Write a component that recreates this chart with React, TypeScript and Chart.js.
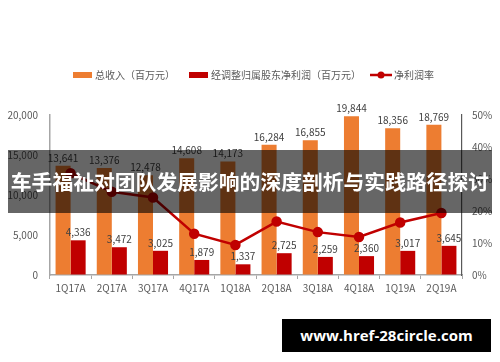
import React, { useEffect, useRef } from "react";
import { Chart, registerables } from "chart.js";

Chart.register(...registerables);

const categories = ["1Q17A", "2Q17A", "3Q17A", "4Q17A", "1Q18A", "2Q18A", "3Q18A", "4Q18A", "1Q19A", "2Q19A"];
const revenue = [13641, 13376, 12478, 14608, 14173, 16284, 16855, 19844, 18356, 18769];
const netProfit = [4336, 3472, 3025, 1879, 1337, 2725, 2259, 2360, 3017, 3645];
const netMargin = [31.8, 26.0, 24.2, 12.9, 9.4, 16.7, 13.4, 11.9, 16.4, 19.4];
const leftTicks = [0, 5000, 10000, 15000, 20000];
const rightTicks = [0, 10, 20, 30, 40, 50];
const seriesNames = ["总收入（百万元）", "经调整归属股东净利润（百万元）", "净利润率"];
const title = "车手福祉对团队发展影响的深度剖析与实践路径探讨";
const watermark = "www.href-28circle.com";

const FONT = '"Noto Sans CJK SC", "Noto Sans", sans-serif';
const ORANGE = "#ED7D31";
const RED = "#C00000";

const fmt = (v: number) => v.toLocaleString("en-US");

const labelPlugin = {
  id: "barLabels",
  afterDatasetsDraw(chart: any) {
    const ctx = chart.ctx;
    ctx.save();
    ctx.font = `10px ${FONT}`;
    ctx.fillStyle = "#404040";
    ctx.textAlign = "center";
    ctx.textBaseline = "bottom";
    [0, 1].forEach((di) => {
      const meta = chart.getDatasetMeta(di);
      const data = chart.data.datasets[di].data as number[];
      meta.data.forEach((el: any, i: number) => {
        ctx.fillText(fmt(data[i]), el.x, el.y - 3);
      });
    });
    ctx.restore();
  },
};

const legendPlugin = {
  id: "customLegend",
  afterDraw(chart: any) {
    const ctx = chart.ctx;
    ctx.save();
    ctx.font = `10px ${FONT}`;
    ctx.fillStyle = "#595959";
    ctx.textBaseline = "middle";
    ctx.textAlign = "left";
    const cy = 75;
    ctx.fillStyle = ORANGE;
    ctx.fillRect(73, cy - 3, 19, 6);
    ctx.fillStyle = "#595959";
    ctx.fillText(seriesNames[0], 95, cy);
    ctx.fillStyle = RED;
    ctx.fillRect(189, cy - 3, 19, 6);
    ctx.fillStyle = "#595959";
    ctx.fillText(seriesNames[1], 211, cy);
    ctx.strokeStyle = RED;
    ctx.lineWidth = 2.5;
    ctx.beginPath();
    ctx.moveTo(370, cy);
    ctx.lineTo(392, cy);
    ctx.stroke();
    ctx.fillStyle = RED;
    ctx.beginPath();
    ctx.arc(381, cy, 3.5, 0, Math.PI * 2);
    ctx.fill();
    ctx.fillStyle = "#595959";
    ctx.fillText(seriesNames[2], 394, cy);
    ctx.restore();
  },
};

export default function App() {
  const ref = useRef<HTMLCanvasElement>(null);

  useEffect(() => {
    if (!ref.current) return;
    const chart = new Chart(ref.current, {
      type: "bar",
      data: {
        labels: categories,
        datasets: [
          {
            type: "bar",
            label: seriesNames[0],
            data: revenue,
            backgroundColor: ORANGE,
            yAxisID: "y",
            order: 1,
            categoryPercentage: 0.73,
            barPercentage: 1,
          } as any,
          {
            type: "bar",
            label: seriesNames[1],
            data: netProfit,
            backgroundColor: RED,
            yAxisID: "y",
            order: 1,
            categoryPercentage: 0.73,
            barPercentage: 1,
          } as any,
          {
            type: "line",
            label: seriesNames[2],
            data: netMargin,
            borderColor: RED,
            backgroundColor: RED,
            borderWidth: 2.5,
            pointRadius: 4,
            pointBackgroundColor: RED,
            pointBorderColor: RED,
            yAxisID: "y1",
            order: 0,
            tension: 0,
          } as any,
        ],
      },
      options: {
        responsive: false,
        animation: false,
        devicePixelRatio: 1,
        layout: { padding: { top: 115, left: 0, right: 0, bottom: 0 } },
        plugins: {
          legend: { display: false },
          tooltip: { enabled: false },
        },
        scales: {
          x: {
            offset: true,
            grid: { display: true, drawOnChartArea: false, drawTicks: true, tickLength: 4, color: "#a6a6a6", offset: true },
            border: { display: true, color: "#a6a6a6", width: 1.5 },
            ticks: { color: "#595959", font: { size: 10, family: FONT }, padding: 3, maxRotation: 0, autoSkip: false },
            afterFit: (s: any) => {
              s.height = 87;
            },
          },
          y: {
            position: "left",
            min: 0,
            max: 20000,
            afterBuildTicks: (s: any) => {
              s.ticks = leftTicks.map((v) => ({ value: v }));
            },
            grid: { display: true, drawOnChartArea: false, drawTicks: false },
            border: { display: true, color: "#a6a6a6", width: 1.5 },
            ticks: {
              color: "#595959",
              font: { size: 10, family: FONT },
              padding: 12,
              callback: (v: any) => fmt(Number(v)),
            },
            afterFit: (s: any) => {
              s.width = 50;
            },
          },
          y1: {
            position: "right",
            min: 0,
            max: 50,
            afterBuildTicks: (s: any) => {
              s.ticks = rightTicks.map((v) => ({ value: v }));
            },
            grid: { display: true, drawOnChartArea: false, drawTicks: false },
            border: { display: true, color: "#595959", width: 1.2 },
            ticks: {
              color: "#595959",
              font: { size: 10, family: FONT },
              padding: 10,
              callback: (v: any) => `${v}%`,
            },
            afterFit: (s: any) => {
              s.width = 38;
            },
          },
        },
      } as any,
      plugins: [labelPlugin, legendPlugin],
    });
    return () => chart.destroy();
  }, []);

  return (
    <div style={{ position: "fixed", left: 0, top: 0, width: 500, height: 362, background: "#fff", overflow: "hidden" }}>
      <canvas ref={ref} width={500} height={362} style={{ position: "absolute", left: 0, top: 0, width: 500, height: 362 }} />
      <div
        style={{
          position: "absolute",
          left: 8,
          top: 150,
          width: 484,
          height: 63,
          background: "rgba(0,0,0,0.6)",
          color: "#fff",
          fontFamily: FONT,
          fontWeight: 700,
          fontSize: 20.8,
          lineHeight: "63px",
          textAlign: "center",
          whiteSpace: "nowrap",
          overflow: "hidden",
        }}
      >
        {title}
      </div>
      <div
        style={{
          position: "absolute",
          left: 282,
          top: 319,
          width: 209,
          height: 33,
          background: "#000",
          color: "#fff",
          fontFamily: '"Open Sans", "Noto Sans", sans-serif',
          fontWeight: 700,
          fontSize: 15,
          lineHeight: "33px",
          textAlign: "center",
          whiteSpace: "nowrap",
        }}
      >
        {watermark}
      </div>
    </div>
  );
}
